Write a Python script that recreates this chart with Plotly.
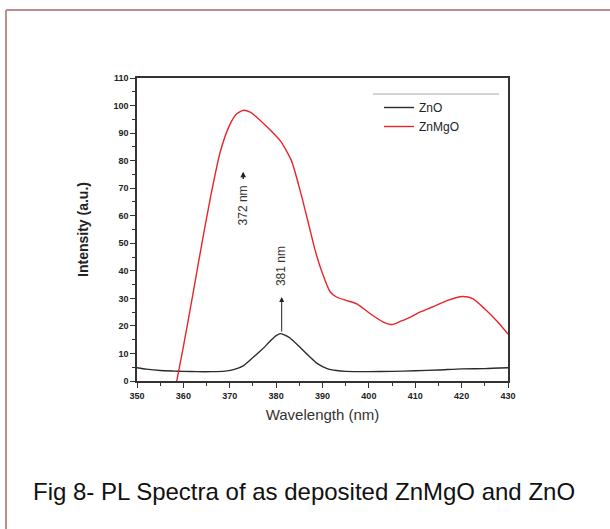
import plotly.graph_objects as go

# ---- data ----
zno_wavelength = [350, 352, 355, 358, 360, 363, 366, 369, 371, 373, 375, 377, 379, 380, 381, 382, 383,
                  385, 387, 389, 391, 393, 395, 400, 405, 410, 415, 420, 425, 430]
zno_intensity = [4.8, 4.3, 3.8, 3.6, 3.5, 3.4, 3.4, 3.6, 4.2, 5.6, 8.5, 11.5, 15.0, 16.5, 17.2, 16.6, 15.6,
                 12.5, 9.2, 6.2, 4.5, 3.8, 3.5, 3.4, 3.5, 3.7, 4.0, 4.4, 4.5, 4.8]

znmgo_wavelength = [358.4, 360, 362, 364, 366, 368, 370, 371.5, 373, 374.5, 376, 378.5, 381, 383.3,
                    385.2, 387, 388.4, 390, 391.6, 393, 395, 397.4, 400.3, 403, 405, 407, 409, 411,
                    413.3, 415, 417, 420.2, 422.4, 424.9, 427.8, 430]
znmgo_intensity = [-1.5, 12.5, 31, 50, 68, 83.5, 93, 97, 98.3, 97.5, 95.5, 91.5, 87, 80,
                   69, 57, 47.5, 39, 32.5, 30.5, 29.3, 28, 24.4, 21.5, 20.5, 21.8, 23.2, 25,
                   26.6, 27.8, 29.3, 30.7, 29.9, 26.3, 21.4, 17]

x_ticks = [350, 360, 370, 380, 390, 400, 410, 420, 430]
y_ticks = [0, 10, 20, 30, 40, 50, 60, 70, 80, 90, 100, 110]

peak_labels = ["372 nm", "381 nm"]
peak_positions = [372.9, 381.2]
caption = "Fig 8- PL Spectra of as deposited ZnMgO and ZnO"

# ---- layout geometry (pixels) ----
W, H = 610, 529
L, R, T, B = 137, 508, 78, 381
pw, ph = R - L, B - T


def px(X):
    return (X - L) / pw


def py(Y):
    return (B - Y) / ph


fig = go.Figure()
fig.add_trace(go.Scatter(x=zno_wavelength, y=zno_intensity, mode="lines", name="ZnO",
                         line=dict(color="#2b2b2b", width=1.4, shape="spline", smoothing=0.6)))
fig.add_trace(go.Scatter(x=znmgo_wavelength, y=znmgo_intensity, mode="lines", name="ZnMgO",
                         line=dict(color="#e8252b", width=1.4, shape="spline", smoothing=0.6)))

tickfont = dict(family="Liberation Sans, Arial", size=9, color="#222", weight="bold")
axis_common = dict(showline=True, linecolor="#333", linewidth=1.5, mirror=True,
                   ticks="outside", ticklen=5, tickwidth=1, tickcolor="#333",
                   showgrid=False, zeroline=False, tickfont=tickfont)

fig.update_xaxes(range=[350, 430], tickvals=x_ticks,
                 minor=dict(ticks="outside", ticklen=3, dtick=5, tickcolor="#333"),
                 title=dict(text="Wavelength (nm)", standoff=10,
                            font=dict(family="Liberation Sans, Arial", size=15, color="#333")),
                 **axis_common)
fig.update_yaxes(range=[0, 110], tickvals=y_ticks,
                 minor=dict(ticks="outside", ticklen=3, dtick=5, tickcolor="#333"),
                 title=dict(text="Intensity (a.u.)", standoff=22,
                            font=dict(family="Liberation Sans, Arial", size=14, color="#222", weight="bold")),
                 **axis_common)

annotations = []
# 372 nm label and arrow
annotations.append(dict(x=peak_positions[0], y=63.8, xref="x", yref="y", text=peak_labels[0],
                        textangle=-90, showarrow=False,
                        font=dict(family="Liberation Sans, Arial", size=12, color="#333")))
annotations.append(dict(x=peak_positions[0], y=76.0, ax=peak_positions[0], ay=72.8,
                        xref="x", yref="y", axref="x", ayref="y", text="",
                        showarrow=True, arrowhead=2, arrowsize=0.8, arrowwidth=1.4, arrowcolor="#222"))
# 381 nm label and arrow
annotations.append(dict(x=peak_positions[1], y=41.6, xref="x", yref="y", text=peak_labels[1],
                        textangle=-90, showarrow=False,
                        font=dict(family="Liberation Sans, Arial", size=12, color="#333")))
annotations.append(dict(x=peak_positions[1], y=30.5, ax=peak_positions[1], ay=17.4,
                        xref="x", yref="y", axref="x", ayref="y", text="",
                        showarrow=True, arrowhead=2, arrowsize=1, arrowwidth=1, arrowcolor="#222"))
# caption
annotations.append(dict(x=px(304), y=py(492), xref="paper", yref="paper", text=caption,
                        showarrow=False, xanchor="center", yanchor="middle",
                        font=dict(family="Liberation Sans, Arial", size=24, color="#111")))

shapes = [
    # frame (top and left edges)
    dict(type="line", xref="paper", yref="paper", x0=px(6), x1=px(W + 5), y0=py(10), y1=py(10),
         line=dict(color="#b98e8e", width=2)),
    dict(type="line", xref="paper", yref="paper", x0=px(6), x1=px(6), y0=py(10), y1=py(H + 5),
         line=dict(color="#b98e8e", width=2)),
    # gray line above legend
    dict(type="line", xref="paper", yref="paper", x0=px(373), x1=px(499), y0=py(94), y1=py(94),
         line=dict(color="#c4c4c4", width=1.5)),
]

fig.update_layout(
    width=W, height=H,
    margin=dict(l=L, r=W - R, t=T, b=H - B, autoexpand=False),
    paper_bgcolor="white", plot_bgcolor="white",
    showlegend=True,
    legend=dict(x=px(379), y=py(93), xanchor="left", yanchor="top",
                font=dict(family="Liberation Sans, Arial", size=12, color="#222"),
                bgcolor="rgba(0,0,0,0)", tracegroupgap=0, itemwidth=30),
    annotations=annotations,
    shapes=shapes,
)

fig.write_html("out.html", config={"displayModeBar": False},
               post_script="document.body.style.margin='0';document.body.style.overflow='hidden';")
